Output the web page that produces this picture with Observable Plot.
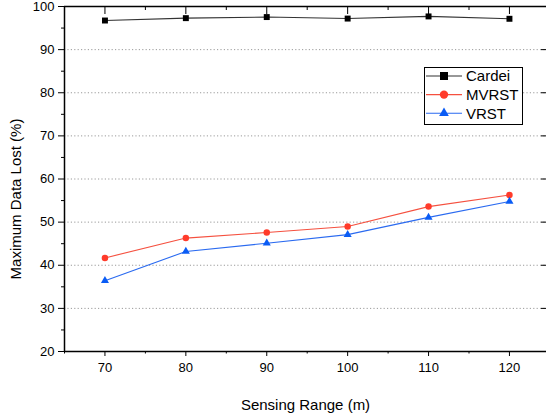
<!DOCTYPE html>
<html>
<head>
<meta charset="utf-8">
<script src="https://cdn.jsdelivr.net/npm/d3@7"></script>
<script src="https://cdn.jsdelivr.net/npm/@observablehq/plot@0.6"></script>
<style>
  html, body { margin: 0; padding: 0; background: #fff; overflow: hidden; }
  #wrap { position: relative; width: 546px; height: 418px; font-family: "Liberation Sans", Arial, sans-serif; }
  #legend { position: absolute; left: 424px; top: 67px; width: 97px; height: 56px; border: 1px solid #000; background: #fff; }
</style>
</head>
<body>
<div id="wrap"></div>
<script>
const ranges = [70, 80, 90, 100, 110, 120];
const seriesNames = ["Cardei", "MVRST", "VRST"];
const cardei = [96.75, 97.3, 97.55, 97.2, 97.7, 97.15];
const mvrst = [41.7, 46.3, 47.6, 49.0, 53.6, 56.3];
const vrst = [36.4, 43.2, 45.1, 47.1, 51.1, 54.8];
const yMajor = [20, 30, 40, 50, 60, 70, 80, 90, 100];
const yMinor = [25, 35, 45, 55, 65, 75, 85, 95];
const xMajor = [70, 80, 90, 100, 110, 120];
const xMinor = [65, 75, 85, 95, 105, 115, 125];
const gridValues = [30, 40, 50, 60, 70, 80, 90];

const colors = {Cardei: "#000000", MVRST: "#ff3b2b", VRST: "#0a5cf5"};
const lineColors = {Cardei: "#333333", MVRST: "#f5503f", VRST: "#2a6af0"};
const symbols = {Cardei: "square", MVRST: "circle", VRST: "triangle"};
const sizes = {Cardei: 4.5, MVRST: 4.2, VRST: 3.6};

const valuesBySeries = {Cardei: cardei, MVRST: mvrst, VRST: vrst};
const data = seriesNames.flatMap(s => ranges.map((r, i) => ({series: s, x: r, y: valuesBySeries[s][i]})));

const font = "Liberation Sans, Arial, sans-serif";

const chart = Plot.plot({
  width: 546,
  height: 418,
  marginLeft: 64,
  marginRight: 0,
  marginTop: 6,
  marginBottom: 67,
  style: {fontFamily: font, fontSize: "13px", color: "#000", background: "#fff"},
  x: {domain: [65, 125], range: [64, 549.4]},
  y: {domain: [20, 100]},
  marks: [
    Plot.ruleY(gridValues, {x1: 65, x2: 125, stroke: "#9a9a9a", strokeWidth: 1, strokeDasharray: "1.2,2.2"}),
    Plot.axisY({ticks: yMajor, tickSize: 6, tickPadding: 4, fontSize: 13, label: null}),
    Plot.axisY({ticks: yMinor, tickSize: 3, fill: "none", label: null}),
    Plot.axisY({anchor: "right", ticks: yMajor, tickSize: -6, fill: "none", label: null}),
    Plot.axisX({ticks: xMajor, tickSize: 5, tickPadding: 6, fontSize: 13, label: null}),
    Plot.axisX({ticks: xMinor, tickSize: 2.5, fill: "none", label: null}),
    Plot.axisX({anchor: "top", ticks: xMajor, tickSize: -7, fill: "none", label: null}),
    Plot.axisX({anchor: "top", ticks: xMinor, tickSize: -3, fill: "none", label: null}),
    Plot.ruleY([20, 100], {x1: 65, x2: 125, stroke: "#000", strokeWidth: 1.5}),
    Plot.ruleX([65, 125], {y1: 20, y2: 100, stroke: "#000", strokeWidth: 1.5}),
    Plot.line(data, {x: "x", y: "y", z: "series", stroke: d => lineColors[d.series], strokeWidth: 1.1}),
    Plot.dot(data, {x: "x", y: "y", symbol: d => symbols[d.series], r: d => sizes[d.series], fill: d => colors[d.series], stroke: "none"}),
    Plot.text(["Maximum Data Lost (%)"], {frameAnchor: "left", textAnchor: "middle", dx: -48, dy: 20, rotate: -90, fontSize: 15, fill: "#000"}),
    Plot.text(["Sensing Range (m)"], {frameAnchor: "bottom", textAnchor: "middle", dy: 58, fontSize: 15, fill: "#000"})
  ]
});

const wrap = document.getElementById("wrap");
wrap.appendChild(chart);

// legend
const legend = document.createElement("div");
legend.id = "legend";
const ns = "http://www.w3.org/2000/svg";
const lsvg = document.createElementNS(ns, "svg");
lsvg.setAttribute("width", 97);
lsvg.setAttribute("height", 56);
seriesNames.forEach((s, i) => {
  const cy = 8 + i * 18.6;
  const line = document.createElementNS(ns, "line");
  line.setAttribute("x1", 1); line.setAttribute("x2", 37);
  line.setAttribute("y1", cy); line.setAttribute("y2", cy);
  line.setAttribute("stroke", lineColors[s]); line.setAttribute("stroke-width", 1.1);
  lsvg.appendChild(line);
  const p = document.createElementNS(ns, "path");
  const sym = {square: d3.symbolSquare, circle: d3.symbolCircle, triangle: d3.symbolTriangle}[symbols[s]];
  p.setAttribute("d", d3.symbol(sym, Math.PI * sizes[s] * sizes[s])());
  p.setAttribute("transform", `translate(19,${cy})`);
  p.setAttribute("fill", colors[s]);
  lsvg.appendChild(p);
  const t = document.createElementNS(ns, "text");
  t.setAttribute("x", 41); t.setAttribute("y", cy);
  t.setAttribute("dy", "0.36em");
  t.setAttribute("font-size", 15);
  t.setAttribute("font-family", font);
  t.textContent = s;
  lsvg.appendChild(t);
});
legend.appendChild(lsvg);
wrap.appendChild(legend);
</script>
</body>
</html>
